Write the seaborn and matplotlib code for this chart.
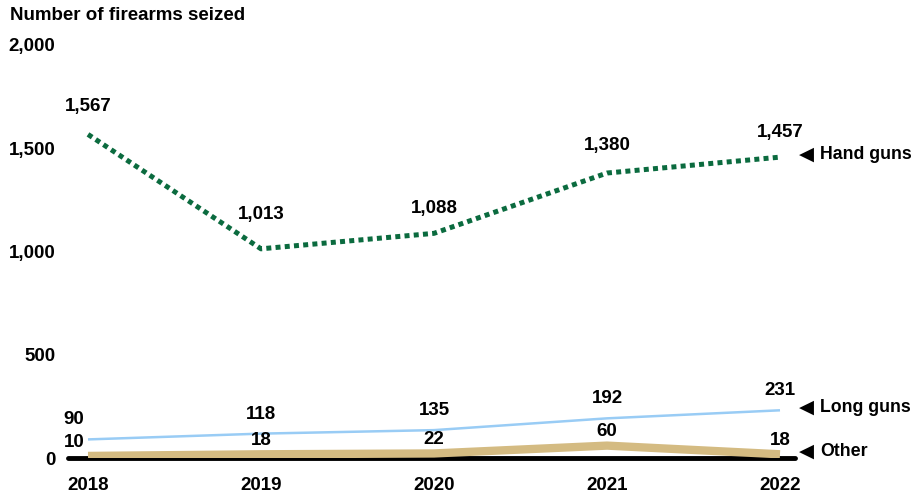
import matplotlib
matplotlib.use("Agg")
import matplotlib.pyplot as plt
import seaborn as sns
import pandas as pd

years = [2018, 2019, 2020, 2021, 2022]
hand_guns = [1567, 1013, 1088, 1380, 1457]
long_guns = [90, 118, 135, 192, 231]
other = [10, 18, 22, 60, 18]
series_names = ["Hand guns", "Long guns", "Other"]
yticks = [0, 500, 1000, 1500, 2000]
ytick_labels = ["0", "500", "1,000", "1,500", "2,000"]
title = "Number of firearms seized"

sns.set_theme(style="white")
plt.rcParams["font.family"] = ["Liberation Sans", "DejaVu Sans"]
plt.rcParams["font.weight"] = "bold"
plt.rcParams["text.color"] = "black"

fig = plt.figure(figsize=(9.16, 4.94), dpi=100)
ax = fig.add_axes([68/916, 36/494, (795-68)/916, (458-45)/494])

df = pd.DataFrame({
    "year": years * 3,
    "value": hand_guns + long_guns + other,
    "series": [series_names[0]]*5 + [series_names[1]]*5 + [series_names[2]]*5,
})

colors = {"Hand guns": "#0B6B3F", "Long guns": "#99CCF5", "Other": "#D4BB82"}
widths = {"Hand guns": 3.6, "Long guns": 1.8, "Other": 6.0}
styles = {"Hand guns": (0, (1.0, 0.85)), "Long guns": "-", "Other": "-"}

for name in series_names:
    sub = df[df["series"] == name]
    sns.lineplot(data=sub, x="year", y="value", ax=ax, color=colors[name],
                 lw=widths[name], linestyle=styles[name], zorder=3,
                 solid_capstyle="butt", dash_capstyle="butt")

ax.axhline(0, color="black", lw=3.5, zorder=2, clip_on=False)

ax.set_xlim(2018 - 20/173, 2022 + 15/173)
ax.set_ylim(0, 2000)
ax.set_yticks(yticks, ytick_labels)
ax.set_xticks(years, [str(y) for y in years])
ax.tick_params(axis="y", length=0, pad=9, labelsize=13.5)
ax.tick_params(axis="x", length=0, pad=14, labelsize=13.5)
for lab in ax.get_xticklabels() + ax.get_yticklabels():
    lab.set_fontweight("bold")
    lab.set_color("black")
ax.set_xlabel("")
ax.set_ylabel("")
for s in ax.spines.values():
    s.set_visible(False)
ax.grid(False)

fig.text(10/916, 1 - 16/494, title, fontsize=13.5, fontweight="bold",
         va="center", ha="left", color="black")

# data labels
lab_kw = dict(textcoords="offset points", ha="center", va="center",
              fontsize=13.5, fontweight="bold", color="black")
hand_off = [(0, 20), (0, 25), (0, 18), (0, 20), (0, 18)]
for i, (x, v) in enumerate(zip(years, hand_guns)):
    ax.annotate(f"{v:,}", (x, v), xytext=hand_off[i], **lab_kw)
for i, (x, v) in enumerate(zip(years, long_guns)):
    dx = -10 if i == 0 else 0
    ax.annotate(f"{v:,}", (x, v), xytext=(dx, 14), **lab_kw)
for i, (x, v) in enumerate(zip(years, other)):
    dx = -10 if i == 0 else 0
    ax.annotate(f"{v:,}", (x, v), xytext=(dx, 10), **lab_kw)

# right-side labels
for name, vals in zip(series_names, [hand_guns, long_guns, other]):
    ax.annotate("\u25C0", (years[-1], vals[-1]), xytext=(19, 2),
                textcoords="offset points", ha="center", va="center",
                fontsize=14, family=["DejaVu Sans"], color="black",
                annotation_clip=False)
    ax.annotate(name, (years[-1], vals[-1]), xytext=(29, 2),
                textcoords="offset points", ha="left", va="center",
                fontsize=12.8, fontweight="bold", color="black",
                annotation_clip=False)

fig.savefig("out.png", dpi=100)
